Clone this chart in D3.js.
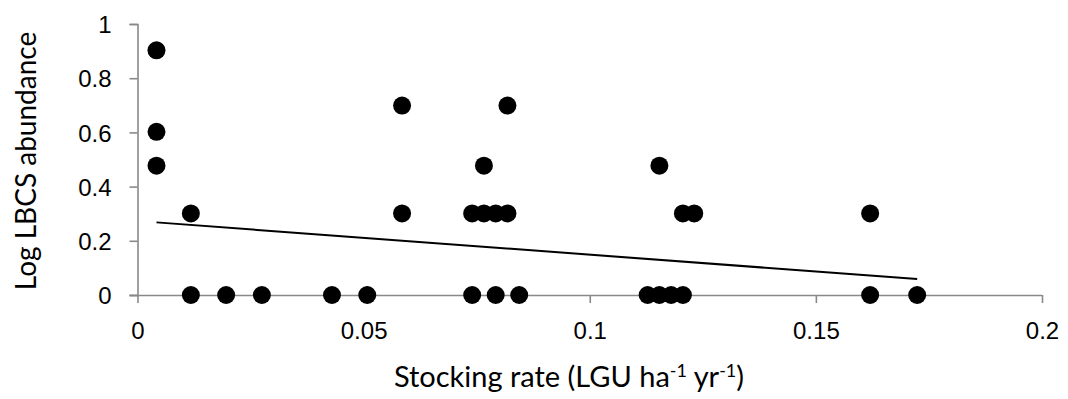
<!DOCTYPE html>
<html>
<head>
<meta charset="utf-8">
<script src="https://cdn.jsdelivr.net/npm/d3@7"></script>
<style>
  html, body { margin: 0; padding: 0; background: #fff; }
  svg { display: block; font-family: Lato, "Open Sans", sans-serif; }
</style>
</head>
<body>
<svg id="chart" width="1068" height="399"></svg>
<script>
// Stocking rate (LGU ha-1 yr-1) for each sampled site
const stockingRate = [
  0.0042, 0.0042, 0.0042,
  0.0118, 0.0118,
  0.0196, 0.0275, 0.0430, 0.0508,
  0.0585, 0.0585,
  0.0740, 0.0740,
  0.0766, 0.0766,
  0.0792, 0.0792,
  0.0818, 0.0818,
  0.0844,
  0.1128,
  0.1154, 0.1154,
  0.1180,
  0.1206, 0.1206,
  0.1231,
  0.1620, 0.1620,
  0.1724
];
// log10 abundance of LBCS at each site
const logAbundance = [
  0.903, 0.602, 0.477,
  0.301, 0,
  0, 0, 0, 0,
  0.699, 0.301,
  0.301, 0,
  0.477, 0.301,
  0.301, 0,
  0.699, 0.301,
  0,
  0,
  0.477, 0,
  0,
  0.301, 0,
  0.301,
  0.301, 0,
  0
];
// Linear trend line
const trendIntercept = 0.2732;
const trendSlope = -1.243;

const xTicks = [0, 0.05, 0.1, 0.15, 0.2];
const xTickLabels = ["0", "0.05", "0.1", "0.15", "0.2"];
const yTicks = [0, 0.2, 0.4, 0.6, 0.8, 1];
const yTickLabels = ["0", "0.2", "0.4", "0.6", "0.8", "1"];

const svg = d3.select("#chart");
const axisColor = "#898989";

const x = d3.scaleLinear().domain([0, 0.2]).range([137.5, 1042]);
const y = d3.scaleLinear().domain([0, 1]).range([295, 24]);

// y axis
const yAxis = d3.axisLeft(y)
  .tickValues(yTicks)
  .tickFormat((d, i) => yTickLabels[i])
  .tickSize(8)
  .tickPadding(18);
const gy = svg.append("g").attr("transform", `translate(${x(0)},0)`).call(yAxis);
gy.select(".domain").attr("stroke", axisColor).attr("stroke-width", 1.6);
gy.selectAll(".tick line").attr("stroke", axisColor).attr("stroke-width", 1.6);
gy.selectAll(".tick text").attr("fill", "#000").style("font-size", "24px")
  .attr("dy", "0.36em");

// x axis
const xAxis = d3.axisBottom(x)
  .tickValues(xTicks)
  .tickFormat((d, i) => xTickLabels[i])
  .tickSize(8)
  .tickPadding(19);
const gx = svg.append("g").attr("transform", `translate(0,${y(0)})`).call(xAxis);
gx.select(".domain").attr("stroke", axisColor).attr("stroke-width", 1.6);
gx.selectAll(".tick line").attr("stroke", axisColor).attr("stroke-width", 1.6);
gx.selectAll(".tick text").attr("fill", "#000").style("font-size", "24px")
  .attr("dy", "0.71em");
gx.selectAll(".domain").attr("d", `M${x(0) - 8},0.5H${x(0.2)}`);

// data points
const pts = stockingRate.map((v, i) => ({ x: v, y: logAbundance[i] }));
svg.append("g").selectAll("circle")
  .data(pts)
  .join("circle")
  .attr("cx", d => x(d.x))
  .attr("cy", d => y(d.y))
  .attr("r", 9)
  .attr("fill", "#000");

// trend line across the observed range
const [xMin, xMax] = d3.extent(stockingRate);
svg.append("line")
  .attr("x1", x(xMin)).attr("y1", y(trendIntercept + trendSlope * xMin))
  .attr("x2", x(xMax)).attr("y2", y(trendIntercept + trendSlope * xMax))
  .attr("stroke", "#000").attr("stroke-width", 2);

// axis titles
const xTitle = svg.append("text")
  .attr("x", 569).attr("y", 387)
  .attr("text-anchor", "middle")
  .style("font-size", "29px")
  .attr("fill", "#000");
xTitle.append("tspan").text("Stocking rate (LGU ha");
xTitle.append("tspan").text("-1").attr("dy", -10).style("font-size", "18px");
xTitle.append("tspan").text(" yr").attr("dy", 10);
xTitle.append("tspan").text("-1").attr("dy", -10).style("font-size", "18px");
xTitle.append("tspan").text(")").attr("dy", 10);

svg.append("text")
  .attr("transform", "translate(36,161) rotate(-90)")
  .attr("text-anchor", "middle")
  .style("font-size", "28px")
  .attr("fill", "#000")
  .text("Log LBCS abundance");
</script>
</body>
</html>
